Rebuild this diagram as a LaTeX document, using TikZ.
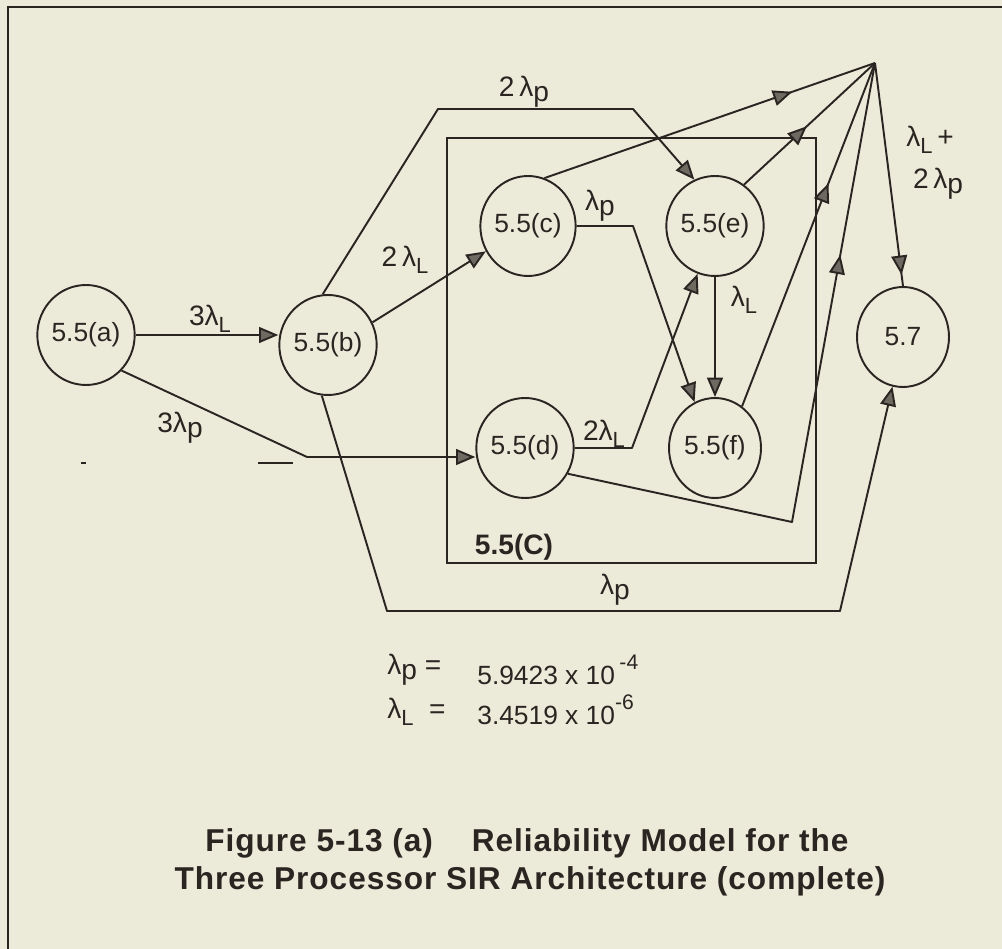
\documentclass[tikz,border=0pt]{standalone}
\usepackage{fontspec}
\setmainfont{Liberation Sans}
\newfontfamily\capfont[LetterSpace=3]{Liberation Sans}
\usetikzlibrary{arrows.meta,shapes.geometric,decorations.markings}
\definecolor{bg}{HTML}{ECEBDA}
\definecolor{ink}{HTML}{2B2522}
\definecolor{tipfill}{HTML}{6E6A62}
\newcommand\lamp{λ\raisebox{-0.35ex}{p}}
\newcommand\lamL{λ\raisebox{-0.45ex}{\fontsize{12.5}{14}\selectfont L}}
\begin{document}
\begin{tikzpicture}[x=0.02cm,y=-0.02cm,
  state/.style={ellipse, draw=ink, line width=1.1pt, minimum width=1.84cm, minimum height=2cm, inner sep=0pt, font=\fontsize{15}{18}\selectfont, text=ink},
  lbl/.style={font=\fontsize{16}{19}\selectfont, text=ink, inner sep=0pt},
  leg/.style={font=\fontsize{15}{18}\selectfont, text=ink, inner sep=0pt},
  edge/.style={draw=ink, line width=1.1pt, line join=round},
  arr/.style={edge, -{Triangle[length=11pt,width=9pt,fill=tipfill]}},
  mid/.style={edge, postaction={decorate}, decoration={markings, mark=at position #1 with {\arrow{Triangle[length=11pt,width=9pt,fill=tipfill]}}}}
]
\path[use as bounding box, fill=bg] (0,0) rectangle (1002,949);
\draw[ink, line width=1.3pt] (8,949) -- (8,7) -- (1002,7);

% states
\node[state] (a) at (86,335) {5.5(a)};
\node[state] (b) at (328,345) {5.5(b)};
\node[state] (c) at (528,226) {5.5(c)};
\node[state] (e) at (715,226) {5.5(e)};
\node[state] (d) at (525,448) {5.5(d)};
\node[state] (f) at (715,448) {5.5(f)};
\node[state] (s57) at (903,337) {5.7};
\coordinate (hub) at (875,63);

% group box 5.5(C)
\draw[ink, line width=1.1pt] (447,138) rectangle (816,563);
\node[lbl, font=\fontsize{16}{19}\selectfont\bfseries] (grp) at (514,547) {5.5(C)};

% a -> b
\draw[arr] (a.east) -- (a.east -| b.west);
\node[lbl, anchor=south] (lab) at (210,333) {3\lamL};

% a -> d
\coordinate (ad1) at (307,457);
\draw[arr] (a.-45) -- (ad1) -- (ad1 -| d.west);
\node[lbl] (lad) at (180,428) {3\lamp};

% b -> c
\draw[arr] (b.27) -- (c.211);
\node[lbl] (lbc) at (405,260) {2\,\lamL};

% b -> e
\coordinate (be1) at (438,109);
\coordinate (be2) at (633,109);
\draw[arr] (b.96) -- (be1) -- (be2) -- (e.114);
\node[lbl] (lbe) at (524,92) {2\,\lamp};

% c -> f
\coordinate (cf1) at (633,226);
\draw[arr] (c.east) -- (cf1) -- (f.114);
\node[lbl] (lcf) at (600,206) {\lamp};

% d -> e
\coordinate (de1) at (632,448);
\draw[arr] (d.east) -- (de1) -- (e.-110);
\node[lbl, anchor=south] (lde) at (604,448) {2\lamL};

% e -> f
\draw[arr] (e.south) -- (f.north);
\node[lbl] (lef) at (744,300) {\lamL};

% to hub
\draw[mid=0.75] (c.71) -- (hub);
\draw[mid=0.48] (e.55) -- (hub);
\draw[mid=0.65] (f.57) -- (hub);
\coordinate (dh1) at (792,522);
\draw[mid=0.72] (d.-31) -- (dh1) -- (hub);

% hub -> 5.7
\draw[mid=0.95] (hub) -- (s57.north);
\node[lbl] (lh1) at (930,140) {\lamL\,+};
\node[lbl] (lh2) at (938,184) {2\,\lamp};

% b -> 5.7
\coordinate (bs1) at (387,611);
\coordinate (bs2) at (840,611);
\draw[arr] (b.-97) -- (bs1) -- (bs2) -- (s57.-102);
\node[lbl] (lbs) at (615,590) {\lamp};

% stray marks
\draw[ink, line width=1pt] (81,463) -- (86,463);
\draw[ink, line width=1.2pt] (258,463) -- (293,463);

% legend
\node[leg, anchor=west] (l1a) at (387,670) {\fontsize{16}{19}\selectfont\lamp\ =};
\node[leg, anchor=west] (l1b) at (477,670) {5.9423 x 10\,\raisebox{1.1ex}{\fontsize{12}{14}\selectfont -4}};
\node[leg, anchor=west] (l2a) at (387,712) {\fontsize{16}{19}\selectfont\lamL\ \ =};
\node[leg, anchor=west] (l2b) at (477,710) {3.4519 x 10\raisebox{1.1ex}{\fontsize{12}{14}\selectfont -6}};

% caption
\node[text=ink, font=\capfont\fontsize{18}{22}\selectfont\bfseries, inner sep=0pt] (cap1) at (527,843) {Figure 5-13 (a)\ \ \ \ Reliability Model for the};
\node[text=ink, font=\capfont\fontsize{18}{22}\selectfont\bfseries, inner sep=0pt] (cap2) at (530,881) {Three Processor SIR Architecture (complete)};
\end{tikzpicture}
\end{document}
